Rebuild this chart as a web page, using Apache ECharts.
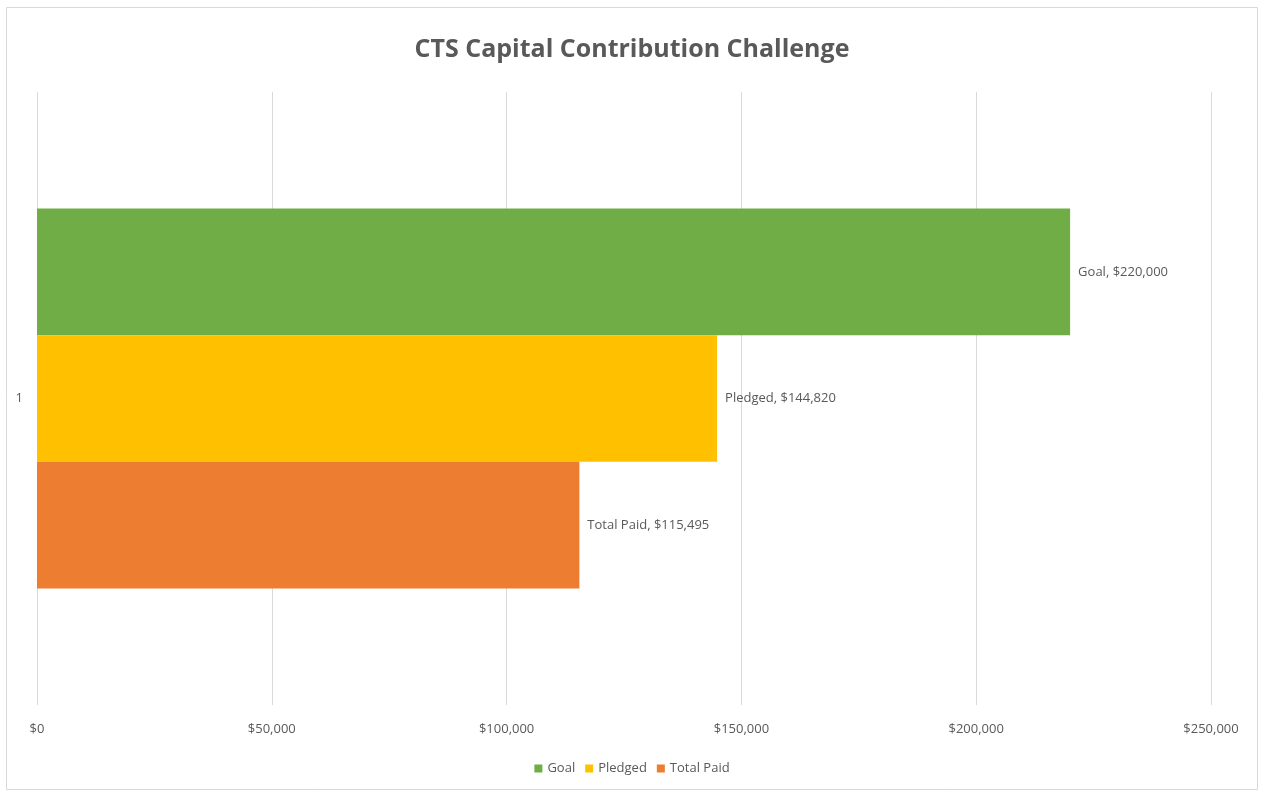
<!DOCTYPE html>
<html><head><meta charset="utf-8">
<script src="https://cdn.jsdelivr.net/npm/echarts@6/dist/echarts.min.js"></script>
<style>html,body{margin:0;padding:0;background:#fff}#c{width:1264px;height:794px}</style>
</head><body><div id="c"></div>
<script>
const categories = ['1'];
const seriesNames = ['Goal', 'Pledged', 'Total Paid'];
const goal = [220000];
const pledged = [144820];
const totalPaid = [115495];
const xTicks = [0, 50000, 100000, 150000, 200000, 250000];
const colors = ['#70AD47', '#FFC000', '#ED7D31'];
const values = [goal, pledged, totalPaid];

const font = '"Open Sans", sans-serif';
const chart = echarts.init(document.getElementById('c'));
chart.setOption({
  animation: false,
  title: {
    text: 'CTS Capital Contribution Challenge',
    left: 'center', top: 32,
    textStyle: { fontFamily: '"Open Sans", sans-serif', fontWeight: 'bold', fontSize: 25, color: '#595959' }
  },
  graphic: [{ type: 'rect', shape: { x: 6.5, y: 7.5, width: 1251, height: 782 }, style: { fill: 'none', stroke: '#d9d9d9', lineWidth: 1 }, silent: true }],
  legend: {
    bottom: 14, left: 'center', itemWidth: 8, itemHeight: 8, itemGap: 10,
    icon: 'rect',
    textStyle: { fontFamily: font, fontSize: 13, color: '#595959' },
    data: seriesNames
  },
  grid: { left: 37, right: 53, top: 92, bottom: 89, containLabel: false },
  xAxis: {
    type: 'value', min: xTicks[0], max: xTicks[xTicks.length - 1], interval: 50000,
    axisLine: { show: false }, axisTick: { show: false },
    splitLine: { lineStyle: { color: '#d9d9d9', width: 1 } },
    axisLabel: { margin: 18, fontFamily: font, fontSize: 13, color: '#595959',
      formatter: v => '$' + v.toLocaleString('en-US') }
  },
  yAxis: {
    type: 'category', data: categories, inverse: true,
    axisLine: { show: false }, axisTick: { show: false },
    axisLabel: { margin: 14, fontFamily: font, fontSize: 13, color: '#595959' }
  },
  series: seriesNames.map((n, i) => ({
    name: n, type: 'bar', data: values[i],
    barGap: '0%', barCategoryGap: '38%',
    itemStyle: { color: colors[i] },
    label: { show: true, position: 'right', distance: 8, fontFamily: font, fontSize: 13, color: '#595959',
      formatter: p => p.seriesName + ', $' + p.value.toLocaleString('en-US') }
  }))
});
</script></body></html>
